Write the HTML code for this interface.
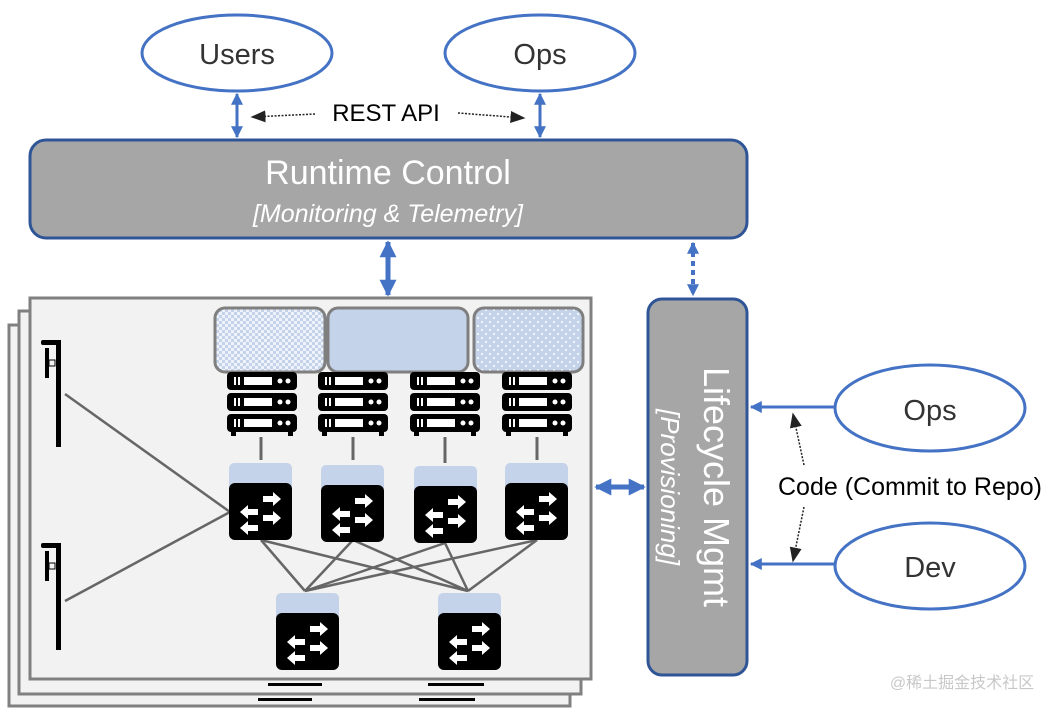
<!DOCTYPE html>
<html><head><style>
html,body{margin:0;padding:0;background:#fff;}
svg{display:block;}
</style></head><body>
<svg width="1063" height="712" viewBox="0 0 1063 712" xmlns="http://www.w3.org/2000/svg">
<defs>
<pattern id="chk" width="6" height="6" patternUnits="userSpaceOnUse">
<rect width="6" height="6" fill="#eef2fa"/><rect width="3" height="3" fill="#c5d3ea"/><rect x="3" y="3" width="3" height="3" fill="#c5d3ea"/>
</pattern>
<pattern id="dots" width="8" height="8" patternUnits="userSpaceOnUse">
<rect width="8" height="8" fill="#c5d3ea"/><circle cx="2" cy="2" r="1" fill="#fff"/><circle cx="6" cy="6" r="1" fill="#fff"/>
</pattern>
<marker id="bh" viewBox="0 0 10 10" refX="9" refY="5" markerUnits="userSpaceOnUse" markerWidth="12" markerHeight="12" orient="auto-start-reverse"><path d="M0,0L10,5L0,10z" fill="#4472c4"/></marker>
<marker id="bt" viewBox="0 0 10 10" refX="9" refY="5" markerUnits="userSpaceOnUse" markerWidth="17" markerHeight="17" orient="auto-start-reverse"><path d="M0,0L10,5L0,10z" fill="#4472c4"/></marker>
<marker id="kh" viewBox="0 0 10 10" refX="9" refY="5" markerWidth="10" markerHeight="10" orient="auto-start-reverse"><path d="M0,1L10,5L0,9z" fill="#222"/></marker>
<g id="srv">
<rect x="0" y="0" width="70" height="18" rx="4" fill="#000"/>
<rect x="0" y="21" width="70" height="18" rx="4" fill="#000"/>
<rect x="0" y="42" width="70" height="18" rx="4" fill="#000"/>
<rect x="4" y="60" width="5" height="4" fill="#000"/><rect x="61" y="60" width="5" height="4" fill="#000"/>
<g fill="#fff"><rect x="7" y="5" width="2" height="8"/><rect x="11" y="5" width="2" height="8"/><rect x="17" y="5" width="28" height="8"/><circle cx="53" cy="9" r="2.5"/><circle cx="61" cy="9" r="2.5"/>
<rect x="7" y="26" width="2" height="8"/><rect x="11" y="26" width="2" height="8"/><rect x="17" y="26" width="28" height="8"/><circle cx="53" cy="30" r="2.5"/><circle cx="61" cy="30" r="2.5"/>
<rect x="7" y="47" width="2" height="8"/><rect x="11" y="47" width="2" height="8"/><rect x="17" y="47" width="28" height="8"/><circle cx="53" cy="51" r="2.5"/><circle cx="61" cy="51" r="2.5"/></g>
</g>
<g id="sw">
<rect x="0" y="0" width="63" height="30" rx="5" fill="#c5d3ea"/>
<rect x="0" y="20" width="63" height="57" rx="6" fill="#000"/>
<g fill="#fff">
<path d="M34,33h10v-4l8,7l-8,7v-4h-10z"/>
<path d="M29,46h-10v-4l-8,7l8,7v-4h10z"/>
<path d="M34,52h10v-4l8,7l-8,7v-4h-10z"/>
<path d="M29,64h-10v-4l-8,7l8,7v-4h10z" transform="translate(0,-2)"/>
</g>
</g>
<g id="ant">
<rect x="0" y="0" width="20" height="5" rx="2" fill="#000"/>
<rect x="15" y="0" width="5" height="107" fill="#000"/>
<rect x="4" y="8" width="4" height="30" fill="#000"/>
<rect x="8" y="20" width="6" height="6" fill="none" stroke="#000" stroke-width="1"/>
</g>
</defs>

<ellipse cx="237" cy="53" rx="95" ry="38" fill="#fff" stroke="#4472c4" stroke-width="3"/>
<text x="237" y="64" text-anchor="middle" font-family="Liberation Sans, sans-serif" font-size="29" fill="#333">Users</text>
<ellipse cx="540" cy="53" rx="95" ry="38" fill="#fff" stroke="#4472c4" stroke-width="3"/>
<text x="540" y="64" text-anchor="middle" font-family="Liberation Sans, sans-serif" font-size="29" fill="#333">Ops</text>

<line x1="237" y1="94" x2="237" y2="137" stroke="#4472c4" stroke-width="3" marker-start="url(#bh)" marker-end="url(#bh)"/>
<line x1="540" y1="94" x2="540" y2="137" stroke="#4472c4" stroke-width="3" marker-start="url(#bh)" marker-end="url(#bh)"/>

<text x="386" y="121" text-anchor="middle" font-family="Liberation Sans, sans-serif" font-size="24" fill="#000">REST API</text>
<line x1="315" y1="114" x2="252" y2="117" stroke="#222" stroke-width="1.5" stroke-dasharray="2,1.5" marker-end="url(#kh)"/>
<line x1="458" y1="113" x2="524" y2="118" stroke="#222" stroke-width="1.5" stroke-dasharray="2,1.5" marker-end="url(#kh)"/>

<rect x="30" y="140" width="717" height="98" rx="16" fill="#a6a6a6" stroke="#2f5597" stroke-width="3"/>
<text x="388" y="184" text-anchor="middle" font-family="Liberation Sans, sans-serif" font-size="34" fill="#fff">Runtime Control</text>
<text x="388" y="222" text-anchor="middle" font-family="Liberation Sans, sans-serif" font-style="italic" font-size="25" fill="#fff">[Monitoring &amp; Telemetry]</text>

<line x1="388" y1="242" x2="388" y2="295" stroke="#4472c4" stroke-width="5" marker-start="url(#bt)" marker-end="url(#bt)"/>
<line x1="693" y1="243" x2="693" y2="295" stroke="#4472c4" stroke-width="4" stroke-dasharray="5,4" marker-start="url(#bh)" marker-end="url(#bh)"/>

<rect x="9" y="325" width="561" height="381" fill="#f2f2f2" stroke="#808080" stroke-width="3"/>
<rect x="19" y="311" width="562" height="383" fill="#f2f2f2" stroke="#808080" stroke-width="3"/>
<rect x="258" y="698" width="54" height="3" fill="#000"/><rect x="419" y="698" width="56" height="3" fill="#000"/>
<rect x="268" y="683" width="54" height="3" fill="#000"/><rect x="428" y="683" width="56" height="3" fill="#000"/>
<rect x="30" y="298" width="561" height="381" fill="#f2f2f2" stroke="#808080" stroke-width="3"/>

<rect x="215" y="308" width="110" height="64" rx="10" fill="url(#chk)" stroke="#7f7f7f" stroke-width="3"/>
<rect x="328" y="308" width="140" height="64" rx="10" fill="#c5d3ea" stroke="#7f7f7f" stroke-width="3"/>
<rect x="474" y="308" width="109" height="64" rx="10" fill="url(#dots)" stroke="#7f7f7f" stroke-width="3"/>

<use href="#srv" x="227" y="372"/>
<use href="#srv" x="318" y="372"/>
<use href="#srv" x="410" y="372"/>
<use href="#srv" x="502" y="372"/>

<g stroke="#666" stroke-width="3">
<line x1="261" y1="437" x2="261" y2="460"/>
<line x1="353" y1="437" x2="353" y2="460"/>
<line x1="445" y1="437" x2="445" y2="463"/>
<line x1="537" y1="437" x2="537" y2="460"/>
</g>
<g stroke="#666" stroke-width="2.5">
<line x1="65" y1="394" x2="230" y2="512"/>
<line x1="65" y1="601" x2="230" y2="512"/>
<line x1="261" y1="540" x2="305" y2="591"/>
<line x1="261" y1="540" x2="468" y2="591"/>
<line x1="353" y1="540" x2="305" y2="591"/>
<line x1="353" y1="540" x2="468" y2="591"/>
<line x1="445" y1="543" x2="305" y2="591"/>
<line x1="445" y1="543" x2="468" y2="591"/>
<line x1="537" y1="540" x2="305" y2="591"/>
<line x1="537" y1="540" x2="468" y2="591"/>
</g>

<use href="#sw" x="229" y="463"/>
<use href="#sw" x="321" y="465"/>
<use href="#sw" x="414" y="466"/>
<use href="#sw" x="505" y="463"/>
<use href="#sw" x="276" y="593"/>
<use href="#sw" x="438" y="593"/>

<use href="#ant" x="41" y="340"/>
<use href="#ant" x="41" y="543"/>

<line x1="596" y1="487" x2="644" y2="487" stroke="#4472c4" stroke-width="5" marker-start="url(#bt)" marker-end="url(#bt)"/>
<rect x="648" y="299" width="99" height="376" rx="14" fill="#a6a6a6" stroke="#2f5597" stroke-width="3"/>
<text transform="translate(704,487) rotate(90)" text-anchor="middle" font-family="Liberation Sans, sans-serif" font-size="36" fill="#fff">Lifecycle Mgmt</text>
<text transform="translate(661,487) rotate(90)" text-anchor="middle" font-family="Liberation Sans, sans-serif" font-style="italic" font-size="26" fill="#fff">[Provisioning]</text>

<ellipse cx="930" cy="408" rx="95" ry="43" fill="#fff" stroke="#4472c4" stroke-width="3"/>
<text x="930" y="420" text-anchor="middle" font-family="Liberation Sans, sans-serif" font-size="29" fill="#333">Ops</text>
<ellipse cx="930" cy="566" rx="95" ry="43" fill="#fff" stroke="#4472c4" stroke-width="3"/>
<text x="930" y="577" text-anchor="middle" font-family="Liberation Sans, sans-serif" font-size="29" fill="#333">Dev</text>
<line x1="834" y1="407" x2="751" y2="407" stroke="#4472c4" stroke-width="3" marker-end="url(#bh)"/>
<line x1="834" y1="564" x2="751" y2="564" stroke="#4472c4" stroke-width="3" marker-end="url(#bh)"/>

<text x="910" y="495" text-anchor="middle" font-family="Liberation Sans, sans-serif" font-size="25" fill="#000">Code (Commit to Repo)</text>
<line x1="804" y1="465" x2="793" y2="414" stroke="#222" stroke-width="1.5" stroke-dasharray="2,1.5" marker-end="url(#kh)"/>
<line x1="804" y1="507" x2="793" y2="561" stroke="#222" stroke-width="1.5" stroke-dasharray="2,1.5" marker-end="url(#kh)"/>

<text x="962" y="688" text-anchor="middle" font-family="Liberation Sans, 'Noto Sans CJK SC', sans-serif" font-size="16" fill="#c8c8c8">@稀土掘金技术社区</text>
</svg>
</body></html>
